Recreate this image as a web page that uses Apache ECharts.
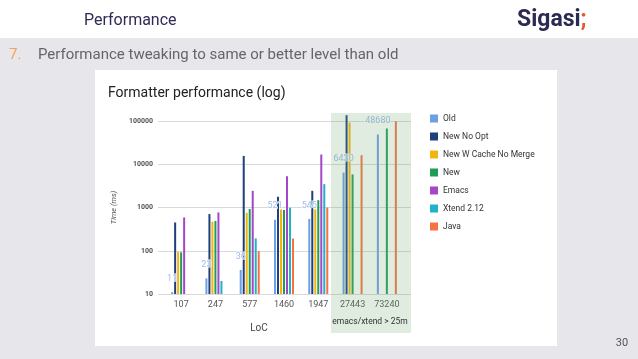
<!DOCTYPE html>
<html><head><meta charset="utf-8">
<script src="https://cdn.jsdelivr.net/npm/echarts@6/dist/echarts.min.js"></script>
<style>html,body{margin:0;padding:0;background:#e6e6eb}#c{width:638px;height:359px}</style>
</head><body><div id="c"></div>
<script>
const categories = ['107', '247', '577', '1460', '1947', '27443', '73240'];
const seriesNames = ['Old', 'New No Opt', 'New W Cache No Merge', 'New', 'Emacs', 'Xtend 2.12', 'Java'];
const oldValues = [11, 23, 36, 521, 545, 6430, 48680];
const newNoOptValues = [450, 705, 15600, 1770, 2430, 136000, null];
const newCacheNoMergeValues = [95, 470, 755, 900, 905, 92000, null];
const newValues = [92, 490, 920, 880, 1480, 5800, 67000];
const emacsValues = [590, 770, 2430, 5300, 16800, null, null];
const xtendValues = [null, 20, 193, 985, 3470, null, null];
const javaValues = [null, null, 98, 193, 1000, 16200, 99000];
const yTickLabels = ['10', '100', '1000', '10000', '100000'];

const colors = ['#6d9fe3', '#1d3f7b', '#f2b40f', '#1f9d58', '#a545c8', '#1fb2c8', '#f47340'];
const allValues = [oldValues, newNoOptValues, newCacheNoMergeValues, newValues, emacsValues, xtendValues, javaValues];
const F = 'Roboto, "Noto Sans", sans-serif';

const chart = echarts.init(document.getElementById('c'), null, {renderer: 'canvas'});

const series = seriesNames.map((name, i) => ({
  name: name,
  type: 'bar',
  xAxisIndex: 1,
  yAxisIndex: 1,
  data: allValues[i],
  barWidth: 2,
  barGap: '50%',
  clip: false,
  z: i === 0 ? 3 : 2,
  itemStyle: {color: colors[i]},
  label: i === 0 ? {
    show: true, position: 'top', distance: 9,
    color: '#9dbde8', fontSize: 9, fontFamily: F,
    textBorderColor: 'rgba(255,255,255,0.8)', textBorderWidth: 1.5
  } : {show: false}
}));

const option = {
  backgroundColor: '#e6e6eb',
  animation: false,
  textStyle: {fontFamily: F},
  grid: [
    {left: 158, width: 253, top: 121, height: 173},
    {left: 164, width: 240, top: 121, height: 173}
  ],
  xAxis: [
    {gridIndex: 0, type: 'category', data: categories, show: false},
    {gridIndex: 1, type: 'category', data: categories,
     axisLine: {show: false}, axisTick: {show: false},
     axisLabel: {margin: 6, fontSize: 9, color: '#555', fontFamily: F}}
  ],
  yAxis: [
    {gridIndex: 0, type: 'log', logBase: 10, min: 10, max: 100000,
     axisLine: {show: false}, axisTick: {show: false},
     axisLabel: {margin: 5, fontSize: 7, color: '#555', fontWeight: 'bold', fontFamily: F,
       formatter: v => { const s = String(Math.round(v)); return yTickLabels.includes(s) ? s : ''; }},
     splitLine: {lineStyle: {color: '#d9d9d9', width: 1}},
     name: 'Time (ms)', nameLocation: 'middle', nameGap: 40,
     nameTextStyle: {fontSize: 7.5, fontStyle: 'italic', color: '#555', fontFamily: F}},
    {gridIndex: 1, type: 'log', logBase: 10, min: 10, max: 100000, startValue: 10, show: false}
  ],
  legend: {
    orient: 'vertical', left: 425, top: 109,
    icon: 'rect', itemWidth: 8, itemHeight: 8, itemGap: 9, itemStyle: {borderWidth: 0},
    data: seriesNames,
    textStyle: {fontSize: 8.5, color: '#333', fontFamily: F}
  },
  series: series,
  graphic: {
    elements: [
      {type: 'rect', z: -10, shape: {x: 0, y: 0, width: 638, height: 38}, style: {fill: '#ffffff'}},
      {type: 'rect', z: -10, shape: {x: 95, y: 70, width: 462, height: 276}, style: {fill: '#ffffff'}},
      {type: 'text', z: 10, x: 84, y: 21, style: {text: 'Performance', font: '16px ' + F, fill: '#2e2b55', textAlign: 'left', textVerticalAlign: 'middle'}},
      {type: 'text', z: 10, x: 517, y: 20, style: {text: '{a|Sigasi}{b|;}', textAlign: 'left', textVerticalAlign: 'middle',
        rich: {a: {font: 'bold 23px ' + F, fill: '#2b2b52'}, b: {font: 'bold 23px ' + F, fill: '#e5532f'}}}},
      {type: 'text', z: 10, x: 9, y: 55, style: {text: '7.', font: '15px ' + F, fill: '#f3a25b', textAlign: 'left', textVerticalAlign: 'middle'}},
      {type: 'text', z: 10, x: 38, y: 55, style: {text: 'Performance tweaking to same or better level than old', font: '15px ' + F, fill: '#666666', textAlign: 'left', textVerticalAlign: 'middle'}},
      {type: 'text', z: 10, x: 108, y: 93, style: {text: 'Formatter performance (log)', font: '14px ' + F, fill: '#222222', textAlign: 'left', textVerticalAlign: 'middle'}},
      {type: 'text', z: 10, x: 259, y: 328, style: {text: 'LoC', font: '10px ' + F, fill: '#444444', textAlign: 'center', textVerticalAlign: 'middle'}},
      {type: 'rect', z: 50, shape: {x: 331, y: 113, width: 80, height: 220}, style: {fill: 'rgba(120,170,120,0.22)'}},
      {type: 'text', z: 60, x: 370, y: 322, style: {text: 'emacs/xtend > 25m', font: '8.5px ' + F, fill: '#333333', textAlign: 'center', textVerticalAlign: 'middle'}},
      {type: 'text', z: 10, x: 622, y: 343, style: {text: '30', font: '11px ' + F, fill: '#555555', textAlign: 'center', textVerticalAlign: 'middle'}}
    ]
  }
};
chart.setOption(option);
</script>
</body></html>
